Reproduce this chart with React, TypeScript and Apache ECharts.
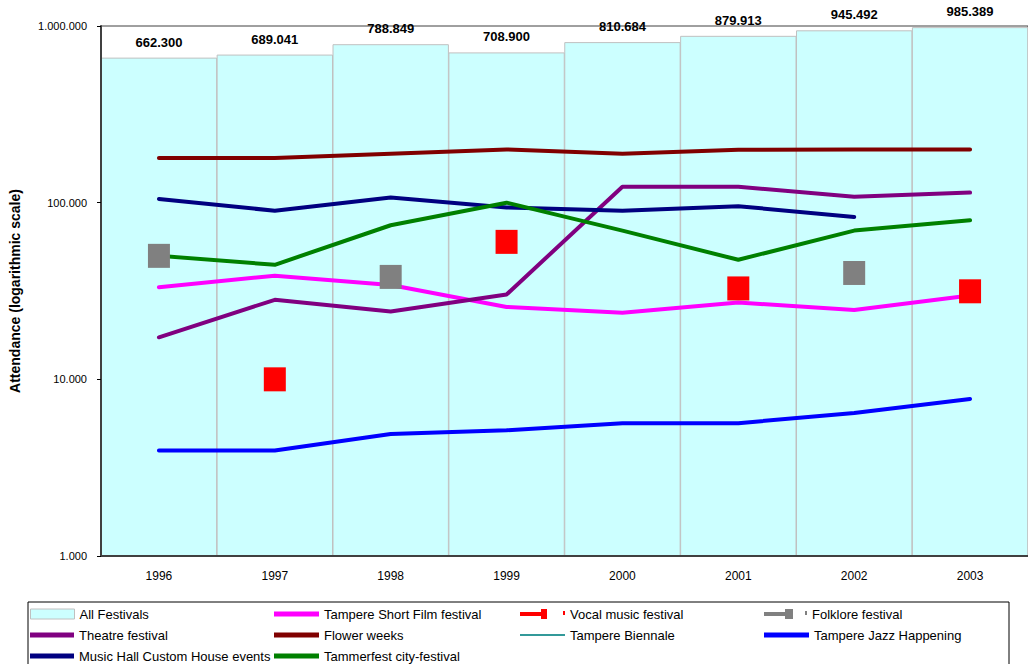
import React, { useEffect, useRef } from "react";
import * as echarts from "echarts";

// Festival attendance in Tampere, 1996–2003
const years = ["1996", "1997", "1998", "1999", "2000", "2001", "2002", "2003"];
const yTicks = [1000, 10000, 100000, 1000000];

const allFestivals = [662300, 689041, 788849, 708900, 810684, 879913, 945492, 985389];
const shortFilm = [33200, 38600, 34200, 25700, 23800, 27200, 24700, 29800];
const vocalMusic = [null, 10000, null, 60000, null, 32700, null, 31500];
const folklore = [50000, null, 38000, null, null, null, 40000, null];
const theatre = [17300, 28200, 24200, 30200, 123000, 123000, 108000, 114000];
const flowerWeeks = [179000, 179000, 189000, 200000, 189000, 199000, 200000, 200000];
const biennale: (number | null)[] = [null, null, null, null, null, null, null, null];
const jazz = [3950, 3950, 4900, 5150, 5650, 5650, 6450, 7750];
const musicHall = [105000, 90000, 107000, 94000, 90000, 95500, 83000, null];
const tammerfest = [50000, 44500, 74500, 100000, 69500, 47500, 69500, 79500];

const FONT = "'Liberation Sans', Arial, sans-serif";

const GRID_LEFT = 99;
const GRID_WIDTH = 931;

const fmt = (v: number) =>
  String(Math.round(v)).replace(/\B(?=(\d{3})+(?!\d))/g, ".");

type LineDef = { name: string; data: (number | null)[]; color: string; width: number };

const lineSeries: LineDef[] = [
  { name: "Tampere Short Film festival", data: shortFilm, color: "#FF00FF", width: 4 },
  { name: "Theatre festival", data: theatre, color: "#800080", width: 4 },
  { name: "Flower weeks", data: flowerWeeks, color: "#800000", width: 4 },
  { name: "Tampere Biennale", data: biennale, color: "#339999", width: 2 },
  { name: "Tampere Jazz Happening", data: jazz, color: "#0000FF", width: 4 },
  { name: "Music Hall Custom House events", data: musicHall, color: "#000080", width: 4 },
  { name: "Tammerfest city-festival", data: tammerfest, color: "#008000", width: 4 },
];

const markerSeries = [
  { name: "Vocal music festival", data: vocalMusic, color: "#FF0000" },
  { name: "Folklore festival", data: folklore, color: "#808080" },
];

// legend entries: [name, column, row]
const legendLayout: [string, number, number][] = [
  ["All Festivals", 0, 0],
  ["Tampere Short Film festival", 1, 0],
  ["Vocal music festival", 2, 0],
  ["Folklore festival", 3, 0],
  ["Theatre festival", 0, 1],
  ["Flower weeks", 1, 1],
  ["Tampere Biennale", 2, 1],
  ["Tampere Jazz Happening", 3, 1],
  ["Music Hall Custom House events", 0, 2],
  ["Tammerfest city-festival", 1, 2],
];
const colX = [30, 274, 520, 764];
const rowY = [614, 635, 656];

const markerIcon: Record<string, string> = {
  "Vocal music festival": "path://M0,3H21V7H0Z M21,0H27V10H21Z M43,2H45V6H43Z",
  "Folklore festival": "path://M0,3H21V7H0Z M21,0H29V10H21Z M41,2H43V6H41Z",
};

function buildLegends() {
  return legendLayout.map(([name, col, row]) => {
    let icon = "rect";
    let itemWidth = col === 0 ? 44 : 45;
    let itemHeight = 5;
    let itemStyle: any = undefined;
    if (name === "All Festivals") {
      itemHeight = 10;
      itemStyle = { borderColor: "#C0C0C0", borderWidth: 1 };
    } else if (markerIcon[name]) {
      icon = markerIcon[name];
      itemWidth = name === "Vocal music festival" ? 45 : 43;
      itemHeight = 10;
    } else if (name === "Tampere Biennale") {
      itemHeight = 2;
    }
    return {
      show: true,
      data: [{ name, icon, itemStyle }],
      left: colX[col],
      top: rowY[row] - 8,
      padding: 0,
      itemWidth,
      itemHeight,
      selectedMode: false,
      textStyle: { fontFamily: FONT, fontSize: 13, color: "#000", lineHeight: 16 },
    };
  });
}

export default function App() {
  const ref = useRef<HTMLDivElement>(null);

  useEffect(() => {
    if (!ref.current) return;
    const chart = echarts.init(ref.current, undefined, { renderer: "svg" });

    const option: any = {
      animation: false,
      backgroundColor: "#FFFFFF",
      textStyle: { fontFamily: FONT },
      grid: {
        left: GRID_LEFT,
        top: 26,
        width: GRID_WIDTH,
        height: 530,
        show: true,
        borderColor: "#404040",
        borderWidth: 1,
        backgroundColor: "transparent",
      },
      legend: buildLegends(),
      graphic: [
        {
          type: "rect",
          shape: { x: 28, y: 602, width: 981, height: 80 },
          style: { fill: "none", stroke: "#000000", lineWidth: 1 },
          silent: true,
          z: -1,
        },
      ],
      xAxis: {
        type: "category",
        data: years,
        boundaryGap: true,
        axisLine: { lineStyle: { color: "#404040", width: 2 } },
        axisTick: { length: 5, lineStyle: { color: "#000" } },
        axisLabel: { color: "#000", fontSize: 12, margin: 14, fontFamily: FONT },
        splitLine: { show: false },
        z: 10,
      },
      yAxis: {
        type: "log",
        logBase: 10,
        min: yTicks[0],
        max: yTicks[yTicks.length - 1],
        name: "Attendance (logarithmic scale)",
        nameLocation: "middle",
        nameRotate: 90,
        nameGap: 79,
        nameTextStyle: { fontSize: 14, fontWeight: "bold", color: "#000", fontFamily: FONT },
        axisLine: { show: true, lineStyle: { color: "#404040", width: 2 } },
        axisTick: { show: true, inside: false, length: 4, lineStyle: { color: "#000" } },
        minorTick: { show: false },
        axisLabel: {
          color: "#000",
          fontSize: 11,
          margin: 14,
          fontFamily: FONT,
          formatter: (v: number) => fmt(v),
        },
        splitLine: { show: false },
        z: 10,
      },
      series: [
        {
          name: "All Festivals",
          type: "bar",
          data: allFestivals,
          barWidth: GRID_WIDTH / years.length,
          barGap: "0%",
          itemStyle: { color: "#CCFFFF", borderColor: "#C0C0C0", borderWidth: 1 },
          label: {
            show: true,
            position: "top",
            distance: 9,
            color: "#000",
            fontWeight: "bold",
            fontSize: 13,
            fontFamily: FONT,
            formatter: (p: any) => fmt(p.value),
          },
          z: 1,
        },
        ...lineSeries.map((s) => ({
          name: s.name,
          type: "line",
          data: s.data,
          symbol: "none",
          showSymbol: false,
          connectNulls: false,
          itemStyle: { color: s.color },
          lineStyle: { color: s.color, width: s.width, cap: "round", join: "round" },
          z: 3,
        })),
        ...markerSeries.map((s) => ({
          name: s.name,
          type: "scatter",
          data: s.data,
          symbol: "rect",
          symbolSize: [22, 24],
          itemStyle: { color: s.color, opacity: 1 },
          z: 5,
        })),
      ],
    };

    chart.setOption(option);
    return () => chart.dispose();
  }, []);

  return (
    <div
      ref={ref}
      style={{ position: "fixed", left: 0, top: 0, width: 1028, height: 664 }}
    />
  );
}
